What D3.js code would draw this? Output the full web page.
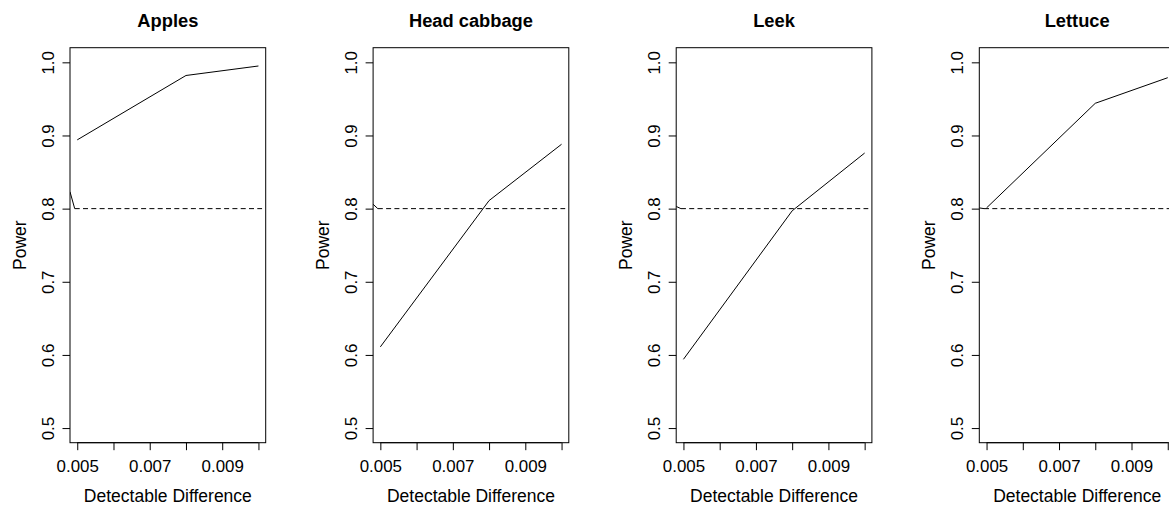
<!DOCTYPE html>
<html>
<head>
<meta charset="utf-8">
<script src="https://cdn.jsdelivr.net/npm/d3@7"></script>
<style>
	body { margin: 0; background: #ffffff; }
	text { font-family: "Liberation Sans", Arial, sans-serif; fill: #000000; }
</style>
</head>
<body>
<div id="chart"></div>
<script>
// detectable difference values and power per crop
var diffs = [0.005, 0.008, 0.010];
var crops = ["Apples", "Head cabbage", "Leek", "Lettuce"];
var powerApples = [0.894, 0.982, 0.995];
var powerCabbage = [0.611, 0.811, 0.888];
var powerLeek = [0.594, 0.797, 0.876];
var powerLettuce = [0.801, 0.944, 0.979];

// short solid stub that runs into the target line at the left edge
var stubX = [0.0048, 0.00493];
var stubApples = [0.823, 0.800];
var stubCabbage = [0.806, 0.800];
var stubLeek = [0.803, 0.800];
var stubLettuce = [0.801, 0.800];

// target power (dashed)
var targetX = [0.00493, 0.0101];
var targetY = [0.8, 0.8];

var xTicks = [0.005, 0.006, 0.007, 0.008, 0.009, 0.010];
var xLabels = [0.005, 0.007, 0.009];
var yTicks = [0.5, 0.6, 0.7, 0.8, 0.9, 1.0];

var powers = [powerApples, powerCabbage, powerLeek, powerLettuce];
var stubs = [stubApples, stubCabbage, stubLeek, stubLettuce];

var W = 1169, H = 507;
var firstLeft = 70, pitch = 303.1;
var pw = 195.7, plotTop = 47.7, plotBottom = 442.7;

var svg = d3.select("#chart")
	.append("svg")
		.attr("width", W)
		.attr("height", H);

svg.append("rect")
	.attr("width", W)
	.attr("height", H)
	.attr("fill", "#ffffff");

function zip(xs, ys){
	return xs.map(function(x, i){ return [x, ys[i]]; });
}

function drawPanel(k){
	var left = firstLeft + k * pitch;
	var x = d3.scaleLinear().domain([0.0048, 0.0102]).range([left, left + pw]);
	var y = d3.scaleLinear().domain([0.48, 1.02]).range([plotBottom, plotTop]);

	var g = svg.append("g");

	g.append("clipPath")
		.attr("id", "clip" + k)
		.append("rect")
			.attr("x", left)
			.attr("y", plotTop)
			.attr("width", pw)
			.attr("height", plotBottom - plotTop);

	var line = d3.line()
		.x(function(d){ return x(d[0]); })
		.y(function(d){ return y(d[1]); });

	var plot = g.append("g").attr("clip-path", "url(#clip" + k + ")");

	plot.append("path")
		.attr("d", line(zip(targetX, targetY)))
		.attr("fill", "none")
		.attr("stroke", "#000")
		.attr("stroke-width", 1)
		.attr("stroke-dasharray", "5,3.3");

	plot.append("path")
		.attr("d", line(zip(stubX, stubs[k])))
		.attr("fill", "none")
		.attr("stroke", "#000")
		.attr("stroke-width", 1);

	plot.append("path")
		.attr("d", line(zip(diffs, powers[k])))
		.attr("fill", "none")
		.attr("stroke", "#000")
		.attr("stroke-width", 1);

	// box
	g.append("rect")
		.attr("x", left)
		.attr("y", plotTop)
		.attr("width", pw)
		.attr("height", plotBottom - plotTop)
		.attr("fill", "none")
		.attr("stroke", "#000")
		.attr("stroke-width", 1);

	// bottom axis
	var xAxis = d3.axisBottom(x)
		.tickValues(xTicks)
		.tickSize(7.5)
		.tickPadding(3)
		.tickFormat(function(d){
			return xLabels.some(function(v){ return Math.abs(v - d) < 1e-9; }) ? d3.format(".3f")(d) : "";
		});
	var gx = g.append("g")
		.attr("transform", "translate(0," + plotBottom + ")")
		.call(xAxis);
	gx.select(".domain").remove();
	gx.selectAll("line").attr("stroke", "#000");
	gx.selectAll("text")
		.attr("font-size", 16.9)
		.attr("font-family", "Liberation Sans, Arial, sans-serif")
		.attr("fill", "#000")
		.attr("dy", null)
		.attr("y", 29);
	gx.append("path")
		.attr("d", "M" + x(xTicks[0]) + ",0H" + x(xTicks[xTicks.length - 1]))
		.attr("stroke", "#000");

	// left axis
	var yAxis = d3.axisLeft(y)
		.tickValues(yTicks)
		.tickSize(7.5)
		.tickFormat(d3.format(".1f"));
	var gy = g.append("g")
		.attr("transform", "translate(" + left + ",0)")
		.call(yAxis);
	gy.select(".domain").remove();
	gy.selectAll("line").attr("stroke", "#000");
	gy.selectAll("text")
		.attr("font-size", 16.9)
		.attr("font-family", "Liberation Sans, Arial, sans-serif")
		.attr("fill", "#000")
		.attr("x", null)
		.attr("dy", null)
		.attr("text-anchor", "middle")
		.attr("transform", "translate(-16,0) rotate(-90)");

	// titles
	g.append("text")
		.text(crops[k])
		.attr("x", left + pw / 2)
		.attr("y", 26.5)
		.attr("text-anchor", "middle")
		.attr("font-weight", "bold")
		.attr("font-size", 18.3);

	g.append("text")
		.text("Detectable Difference")
		.attr("x", left + pw / 2)
		.attr("y", 502)
		.attr("text-anchor", "middle")
		.attr("font-size", 17.5);

	g.append("text")
		.text("Power")
		.attr("transform", "translate(" + (left - 44) + "," + ((plotTop + plotBottom) / 2) + ") rotate(-90)")
		.attr("text-anchor", "middle")
		.attr("font-size", 17.5);
}

for (var k = 0; k < crops.length; k++){
	drawPanel(k);
}
</script>
</body>
</html>
